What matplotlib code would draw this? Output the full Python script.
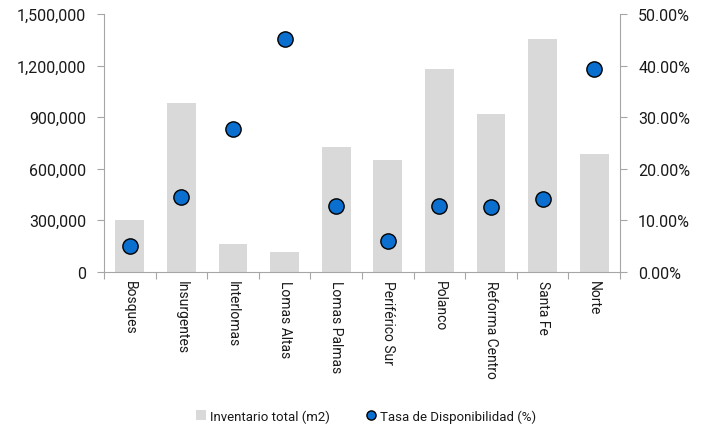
import matplotlib.pyplot as plt
from matplotlib.ticker import FuncFormatter, MultipleLocator, FixedLocator, NullFormatter

plt.rcParams['font.family'] = ['Roboto', 'DejaVu Sans']

# Data
zonas = ['Bosques', 'Insurgentes', 'Interlomas', 'Lomas Altas', 'Lomas Palmas',
         'Periférico Sur', 'Polanco', 'Reforma Centro', 'Santa Fe', 'Norte']
inventario = [303000, 985000, 161000, 113000, 727000,
              651000, 1180000, 917000, 1357000, 686000]
disponibilidad = [5.05, 14.6, 27.7, 45.2, 12.8,
                  6.0, 12.8, 12.6, 14.2, 39.4]

txt = '#1a1a1a'
gris = '#a6a6a6'

fig = plt.figure(figsize=(7.04, 4.27), dpi=100)
ax = fig.add_axes([0.1477, 0.3614, 0.733, 0.6028])
ax2 = ax.twinx()

x = list(range(len(zonas)))
bars = ax.bar(x, inventario, width=0.56, color='#d9d9d9', label='Inventario total (m2)', zorder=1)
pts, = ax2.plot(x, disponibilidad, 'o', markersize=11, markerfacecolor='#0a6fcf',
                markeredgecolor='black', markeredgewidth=1.0, label='Tasa de Disponibilidad (%)')

ax.set_xlim(-0.5, len(zonas) - 0.5)
ax.set_ylim(0, 1500000)
ax2.set_ylim(0, 50)

ax.yaxis.set_major_locator(MultipleLocator(300000))
ax.yaxis.set_major_formatter(FuncFormatter(lambda v, p: f'{v:,.0f}'))
ax2.yaxis.set_major_locator(MultipleLocator(10))
ax2.yaxis.set_major_formatter(FuncFormatter(lambda v, p: f'{v:.2f}%'))

# category labels at centres, tick marks at boundaries
ax.xaxis.set_major_locator(FixedLocator([i - 0.5 for i in range(len(zonas) + 1)]))
ax.xaxis.set_major_formatter(NullFormatter())
ax.xaxis.set_minor_locator(FixedLocator(x))
ax.set_xticklabels(zonas, minor=True, rotation=-90, fontsize=10, color=txt)
ax.tick_params(axis='x', which='minor', length=0, pad=6)
ax.tick_params(axis='x', which='major', length=5, color=gris, direction='out')

for a in (ax, ax2):
    a.spines['top'].set_visible(False)
    for s in ('left', 'right', 'bottom'):
        a.spines[s].set_color(gris)
ax.spines['right'].set_visible(False)
ax2.spines['left'].set_visible(False)
ax2.spines['bottom'].set_visible(False)

ax.tick_params(axis='y', length=5, color=gris, labelsize=11.5, labelcolor=txt, pad=8)
ax2.tick_params(axis='y', length=5, color=gris, labelsize=11.5, labelcolor=txt, pad=8)

fig.legend(handles=[bars, pts], labels=['Inventario total (m2)', 'Tasa de Disponibilidad (%)'],
           loc='lower center', bbox_to_anchor=(0.52, -0.02), ncol=2, frameon=False,
           fontsize=9.5, handlelength=0.7, handletextpad=0.3, columnspacing=2.8,
           labelcolor=txt, markerscale=0.6)

fig.savefig('out.png', dpi=100)
